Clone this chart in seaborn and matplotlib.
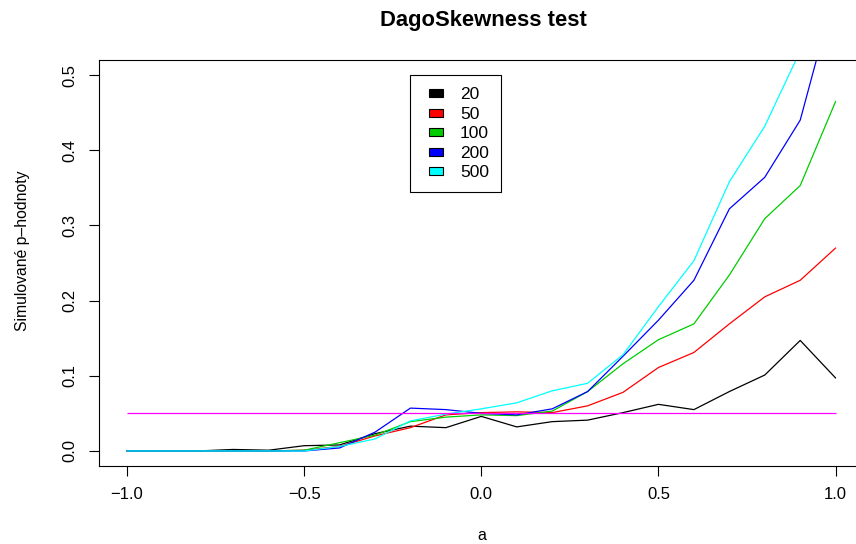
import matplotlib
matplotlib.use("Agg")
import matplotlib.pyplot as plt
from matplotlib.patches import Rectangle, Patch
from matplotlib.legend_handler import HandlerPatch
import seaborn as sns
import pandas as pd

# ---- data ----
a_values = [-1.0, -0.9, -0.8, -0.7, -0.6, -0.5, -0.4, -0.3, -0.2, -0.1, 0.0,
            0.1, 0.2, 0.3, 0.4, 0.5, 0.6, 0.7, 0.8, 0.9, 1.0]
p_n20 = [0.000, 0.000, 0.000, 0.002, 0.001, 0.007, 0.008, 0.023, 0.033, 0.031, 0.046,
         0.032, 0.039, 0.041, 0.051, 0.062, 0.055, 0.079, 0.101, 0.147, 0.097]
p_n50 = [0.000, 0.000, 0.000, 0.000, 0.000, 0.001, 0.006, 0.020, 0.031, 0.048, 0.051,
         0.052, 0.051, 0.060, 0.078, 0.111, 0.131, 0.169, 0.205, 0.227, 0.270]
p_n100 = [0.000, 0.000, 0.000, 0.000, 0.000, 0.001, 0.011, 0.021, 0.039, 0.045, 0.048,
          0.047, 0.053, 0.079, 0.116, 0.148, 0.169, 0.234, 0.309, 0.353, 0.465]
p_n200 = [0.000, 0.000, 0.000, 0.000, 0.000, 0.000, 0.004, 0.025, 0.057, 0.055, 0.050,
          0.048, 0.056, 0.079, 0.126, 0.174, 0.227, 0.322, 0.364, 0.440, 0.615]
p_n500 = [0.000, 0.000, 0.000, 0.000, 0.000, 0.000, 0.006, 0.016, 0.040, 0.049, 0.056,
          0.064, 0.080, 0.090, 0.128, 0.192, 0.253, 0.358, 0.432, 0.532, 0.650]
sample_sizes = ["20", "50", "100", "200", "500"]
series_colors = ["#000000", "#FF0000", "#00CD00", "#0000FF", "#00FFFF"]
ref_level = 0.05
ref_color = "#FF00FF"
x_ticks = [-1.0, -0.5, 0.0, 0.5, 1.0]
y_ticks = [0.0, 0.1, 0.2, 0.3, 0.4, 0.5]
title = "DagoSkewness test"
x_label = "a"
y_label = "Simulované p–hodnoty"

series = [p_n20, p_n50, p_n100, p_n200, p_n500]
rows = []
for n, vals in zip(sample_sizes, series):
    for a, p in zip(a_values, vals):
        rows.append({"a": a, "p": p, "n": n})
df = pd.DataFrame(rows)

# ---- style ----
sns.set_theme(style="ticks")
plt.rcParams["font.family"] = ["Liberation Sans", "DejaVu Sans"]
plt.rcParams["text.color"] = "black"
plt.rcParams["axes.labelcolor"] = "black"
plt.rcParams["xtick.color"] = "black"
plt.rcParams["ytick.color"] = "black"

fig = plt.figure(figsize=(8.56, 5.44), dpi=100)
ax = fig.add_axes([98.6 / 856, 78 / 544, 765.4 / 856, 406 / 544])

palette = dict(zip(sample_sizes, series_colors))
sns.lineplot(data=df, x="a", y="p", hue="n", hue_order=sample_sizes,
             palette=palette, estimator=None, sort=False, legend=False,
             linewidth=0.9, ax=ax)
ax.hlines(ref_level, a_values[0], a_values[-1], color=ref_color, linewidth=0.9)

ax.set_xlim(-1.08, 1.08)
ax.set_ylim(-0.02, 0.52)
ax.set_xticks(x_ticks)
ax.set_yticks(y_ticks)
ax.set_xticklabels([f"{v:.1f}".replace("-", "\u2212") for v in x_ticks])
ax.set_yticklabels([f"{v:.1f}" for v in y_ticks])
ax.tick_params(axis="both", direction="out", length=7.2, width=0.8,
               color="black", labelsize=12, pad=8, labelcolor="black")
ax.tick_params(axis="y", labelrotation=90)
for lab in ax.get_yticklabels():
    lab.set_va("center")
for sp in ax.spines.values():
    sp.set_visible(True)
    sp.set_color("black")
    sp.set_linewidth(0.8)

ax.set_xlabel(x_label, fontsize=11.5, va="center", color="black")
ax.xaxis.set_label_coords(0.501, -0.17)
ax.set_ylabel(y_label, fontsize=11.3, va="center", color="black")
ax.yaxis.set_label_coords(-0.10, 0.53)
ax.set_title(title, fontsize=15.8, fontweight="bold", va="center",
             x=0.503, y=1.0985, pad=0, color="black")


def square_patch(legend, orig_handle, xdescent, ydescent, width, height, fontsize):
    w, h = 10.1, 5.8
    return Rectangle((-xdescent + 4.8, -ydescent + (height - h) / 2), w, h)


handles = [Patch(facecolor=c, edgecolor="black", linewidth=0.8) for c in series_colors]
leg = ax.legend(handles, sample_sizes, loc="upper left",
                bbox_to_anchor=(-0.2, 0.5), bbox_transform=ax.transData,
                borderaxespad=0, fontsize=12.5, frameon=True, fancybox=False,
                edgecolor="black", framealpha=1, borderpad=0.7,
                handlelength=1.2, handleheight=0.7, handletextpad=0.95,
                labelspacing=0.25, labelcolor="black",
                handler_map={Patch: HandlerPatch(patch_func=square_patch)})
leg.get_frame().set_linewidth(0.8)

fig.savefig("out.png", dpi=100)
